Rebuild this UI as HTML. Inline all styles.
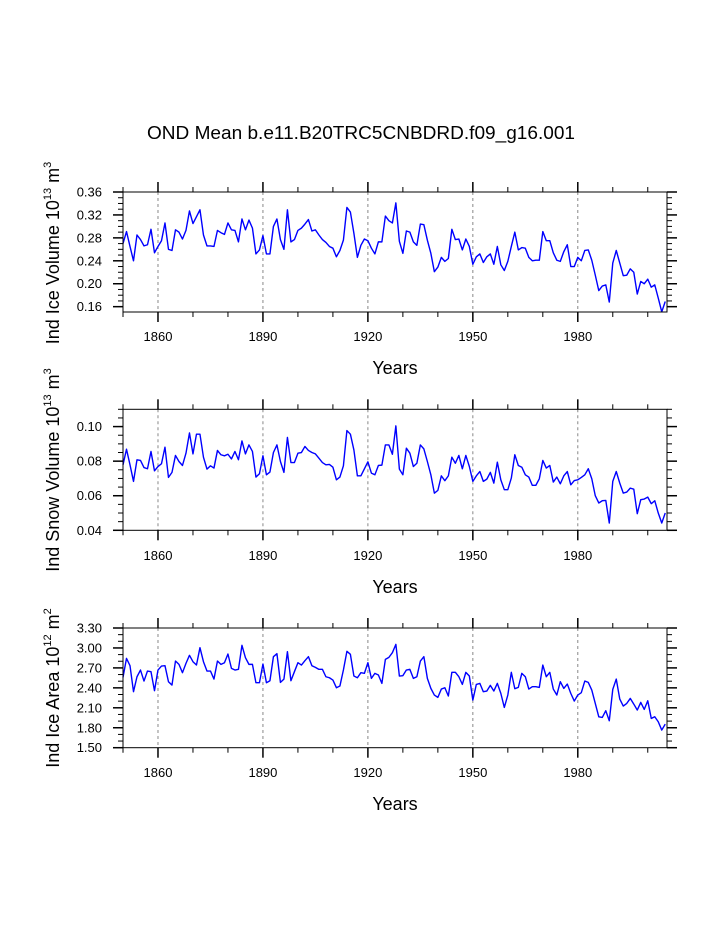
<!DOCTYPE html>
<html><head><meta charset="utf-8"><style>
html,body{margin:0;padding:0;background:#fff;}
svg{display:block;font-family:"Liberation Sans",Arial,sans-serif;}
</style></head><body>
<svg id="chart" width="723" height="935" viewBox="0 0 723 935" xmlns="http://www.w3.org/2000/svg">
<rect x="0" y="0" width="723" height="935" fill="#fff"/>
<text x="361" y="139" text-anchor="middle" font-size="18" textLength="428" lengthAdjust="spacingAndGlyphs">OND Mean b.e11.B20TRC5CNBDRD.f09_g16.001</text>
</svg>
<script>
const startYear = 1850;
const iceVolume = [0.270,0.291,0.265,0.240,0.285,0.277,0.266,0.268,0.295,0.254,
0.265,0.275,0.306,0.260,0.258,0.294,0.290,0.278,0.293,0.327,
0.305,0.317,0.329,0.285,0.266,0.266,0.265,0.293,0.289,0.286,
0.306,0.294,0.293,0.273,0.313,0.294,0.311,0.297,0.252,0.259,
0.284,0.252,0.252,0.300,0.313,0.277,0.260,0.329,0.273,0.277,
0.293,0.297,0.304,0.312,0.292,0.294,0.285,0.277,0.272,0.265,
0.262,0.247,0.258,0.276,0.333,0.325,0.288,0.246,0.267,0.278,
0.275,0.262,0.252,0.273,0.273,0.318,0.310,0.306,0.341,0.274,
0.253,0.292,0.290,0.273,0.267,0.304,0.303,0.276,0.253,0.221,
0.229,0.246,0.239,0.244,0.295,0.277,0.278,0.259,0.278,0.265,
0.234,0.247,0.252,0.237,0.247,0.252,0.234,0.265,0.233,0.223,
0.239,0.265,0.290,0.259,0.263,0.262,0.246,0.240,0.241,0.241,
0.291,0.275,0.275,0.254,0.241,0.239,0.256,0.268,0.230,0.230,
0.246,0.240,0.258,0.259,0.241,0.215,0.188,0.196,0.198,0.168,
0.236,0.258,0.236,0.214,0.215,0.226,0.220,0.182,0.204,0.200,
0.208,0.194,0.198,0.175,0.151,0.169];
const snowVolume = [0.0779,0.0869,0.0779,0.0683,0.0808,0.0804,0.0763,0.0756,0.0856,0.0744,
0.0769,0.0785,0.0881,0.0706,0.0735,0.0833,0.0798,0.0775,0.0846,0.0963,
0.0842,0.0956,0.0956,0.0823,0.0754,0.0773,0.0760,0.0862,0.0837,0.0831,
0.0840,0.0813,0.0856,0.0808,0.0917,0.0842,0.0894,0.0856,0.0708,0.0727,
0.0831,0.0721,0.0737,0.0850,0.0894,0.0798,0.0735,0.0937,0.0792,0.0792,
0.0846,0.0850,0.0885,0.0862,0.0850,0.0842,0.0817,0.0792,0.0779,0.0781,
0.0765,0.0692,0.0708,0.0773,0.0977,0.0956,0.0865,0.0715,0.0715,0.0756,
0.0796,0.0731,0.0721,0.0775,0.0777,0.0894,0.0894,0.0840,0.1004,0.0754,
0.0721,0.0875,0.0846,0.0769,0.0788,0.0894,0.0871,0.0798,0.0721,0.0615,
0.0631,0.0715,0.0687,0.0715,0.0823,0.0788,0.0833,0.0756,0.0833,0.0769,
0.0683,0.0715,0.0740,0.0683,0.0696,0.0735,0.0673,0.0794,0.0692,0.0635,
0.0635,0.0702,0.0837,0.0775,0.0765,0.0721,0.0708,0.0660,0.0660,0.0698,
0.0804,0.0760,0.0775,0.0679,0.0708,0.0669,0.0715,0.0740,0.0663,0.0688,
0.0692,0.0706,0.0721,0.0756,0.0698,0.0600,0.0558,0.0571,0.0573,0.0442,
0.0683,0.0740,0.0673,0.0615,0.0621,0.0644,0.0638,0.0496,0.0577,0.0581,
0.0592,0.0554,0.0571,0.0500,0.0442,0.0500];
const iceArea = [2.557,2.843,2.733,2.342,2.567,2.668,2.502,2.653,2.643,2.357,
2.668,2.728,2.733,2.492,2.442,2.803,2.753,2.628,2.768,2.889,
2.793,2.743,3.004,2.793,2.653,2.653,2.532,2.803,2.753,2.778,
2.909,2.693,2.668,2.678,3.039,2.853,2.753,2.753,2.477,2.477,
2.758,2.477,2.507,2.869,2.914,2.482,2.532,2.944,2.507,2.643,
2.778,2.743,2.808,2.869,2.733,2.708,2.678,2.678,2.567,2.552,
2.517,2.402,2.427,2.668,2.949,2.904,2.578,2.552,2.628,2.618,
2.778,2.542,2.618,2.593,2.467,2.828,2.858,2.929,3.054,2.578,
2.583,2.668,2.678,2.542,2.567,2.803,2.869,2.542,2.392,2.292,
2.257,2.382,2.402,2.277,2.633,2.633,2.567,2.452,2.633,2.578,
2.216,2.452,2.467,2.342,2.352,2.437,2.352,2.467,2.317,2.106,
2.292,2.633,2.387,2.407,2.618,2.567,2.382,2.417,2.417,2.407,
2.743,2.567,2.633,2.382,2.292,2.492,2.392,2.457,2.317,2.201,
2.292,2.327,2.502,2.482,2.367,2.166,1.965,1.955,2.056,1.905,
2.377,2.532,2.231,2.126,2.166,2.241,2.156,2.066,2.181,2.076,
2.206,1.940,1.965,1.890,1.765,1.855];
const xMajorTicks = [1860,1890,1920,1950,1980];
const yTicks1 = [0.16,0.20,0.24,0.28,0.32,0.36];
const yTicks2 = [0.04,0.06,0.08,0.10];
const yTicks3 = [1.50,1.80,2.10,2.40,2.70,3.00,3.30];

const NS='http://www.w3.org/2000/svg';
const svg=document.getElementById('chart');
const X0=123,X1=667,XMIN=1850,XMAX=2005.5;
function xs(v){return X0+(v-XMIN)/(XMAX-XMIN)*(X1-X0);}
function mk(tag,attrs,parent){const e=document.createElementNS(NS,tag);for(const k in attrs)e.setAttribute(k,attrs[k]);(parent||svg).appendChild(e);return e;}

function panel(id,top,bot,ymin,ymax,ticks,minorStep,dec,data,label,sup,unit,unitSup,labelY,tickLabY,yearsY){
  const g=mk('g',{});
  
  
  const ys=v=>bot-(v-ymin)/(ymax-ymin)*(bot-top);
  // grid
  xMajorTicks.forEach(t=>{
    const l=mk('line',{x1:xs(t),x2:xs(t),y1:top,y2:bot,stroke:'#888','stroke-width':1,'stroke-dasharray':'3,3'},g);
    
    
  });
  // series
  let d='';
  data.forEach((v,i)=>{d+=(i?'L':'M')+xs(startYear+i).toFixed(2)+','+ys(v).toFixed(2);});
  const p=mk('path',{d:d,fill:'none',stroke:'#0000ff','stroke-width':1.4,'stroke-linejoin':'round'},g);
  
  
  // frame
  const fr=mk('rect',{x:X0,y:top,width:X1-X0,height:bot-top,fill:'none',stroke:'#000','stroke-width':1},g);
  
  
  // x ticks
  for(let yr=1850;yr<=2005;yr+=10){
    const major=xMajorTicks.includes(yr);const L=major?10:5;const x=xs(yr);
    mk('line',{x1:x,x2:x,y1:bot,y2:bot+L,stroke:'#000','stroke-width':major?1.5:1},g);
    mk('line',{x1:x,x2:x,y1:top,y2:top-L,stroke:'#000','stroke-width':major?1.5:1},g);
  }
  xMajorTicks.forEach(t=>{
    const tx=mk('text',{x:xs(t),y:tickLabY,'text-anchor':'middle','font-size':13},g);
    
    
    tx.textContent=t;
  });
  // y ticks
  const n=Math.round((ymax-ymin)/minorStep);
  const start=Math.ceil(ymin/minorStep-1e-6);
  for(let k=start;k*minorStep<=ymax+1e-9;k++){
    const v=k*minorStep;const major=ticks.some(t=>Math.abs(t-v)<1e-9);const L=major?10:5;const y=ys(v);
    mk('line',{x1:X0,x2:X0-L,y1:y,y2:y,stroke:'#000','stroke-width':major?1.5:1},g);
    mk('line',{x1:X1,x2:X1+L,y1:y,y2:y,stroke:'#000','stroke-width':major?1.5:1},g);
  }
  ticks.forEach(t=>{
    const tx=mk('text',{x:102,y:ys(t)+4.5,'text-anchor':'end','font-size':13},g);
    
    
    tx.textContent=t.toFixed(dec);
  });
  const yl=mk('text',{x:0,y:0,'text-anchor':'middle','font-size':18,transform:'translate(59,'+labelY+') rotate(-90)'},g);
  
  
  yl.innerHTML=label+' 10<tspan font-size="11" dy="-8">'+sup+'</tspan><tspan dy="8"> m</tspan><tspan font-size="11" dy="-8">'+unitSup+'</tspan>';
  const xl=mk('text',{x:395,y:yearsY,'text-anchor':'middle','font-size':18},g);
  
  
  xl.textContent='Years';
}
panel('ice-volume',192,312,0.1507,0.36,yTicks1,0.01,2,iceVolume,'Ind Ice Volume','13','m','3',253,341,374);
panel('snow-volume',409.3,530.3,0.04,0.11,yTicks2,0.005,2,snowVolume,'Ind Snow Volume','13','m','3',470,560,593);
panel('ice-area',628,747.7,1.50,3.30,yTicks3,0.1,2,iceArea,'Ind Ice Area','12','m','2',688,777,810);
</script>
</body></html>
